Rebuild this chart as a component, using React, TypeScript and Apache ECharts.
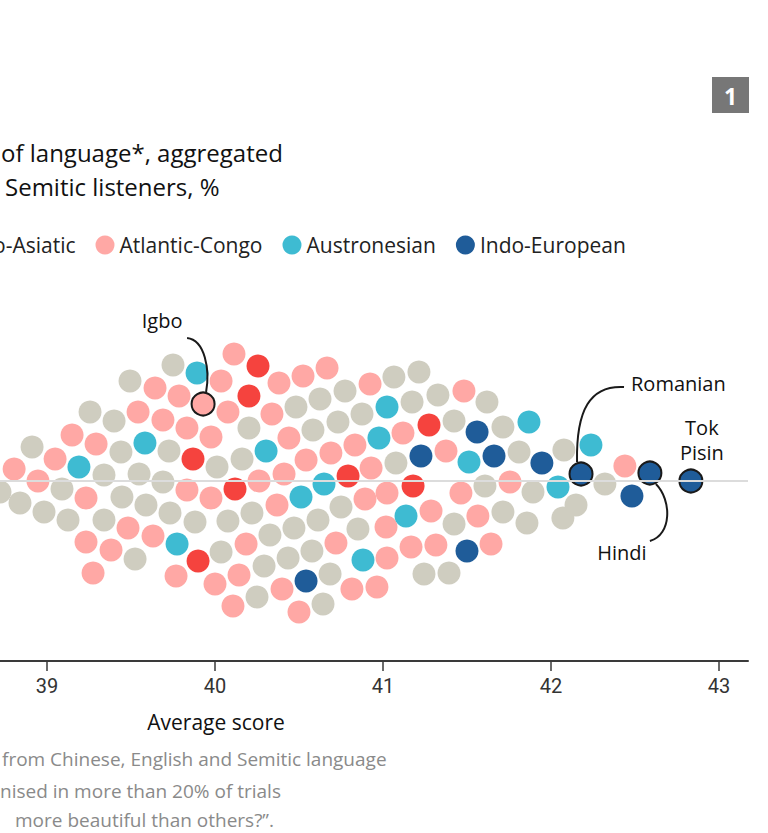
import React, { useEffect, useRef } from "react";
import * as echarts from "echarts";

// ---------- DATA ----------
const familyNames = ["Other", "Afro-Asiatic", "Atlantic-Congo", "Austronesian", "Indo-European"];
const familyColors = ["#cfcdc0", "#f5433e", "#ffa8a5", "#3ebbd2", "#1f5c99"];
const legendFamilies = ["Afro-Asiatic", "Atlantic-Congo", "Austronesian", "Indo-European"];
const tickValues = [39, 40, 41, 42, 43];

// average score (x) and swarm offset (vertical packing position) per language
const otherScores = [39.750, 39.494, 40.482, 40.625, 40.774, 39.256, 39.399, 40.875, 40.202, 40.583, 40.732, 38.911, 39.440, 39.726, 39.339, 40.012, 40.161, 39.548, 39.690, 39.089, 38.720, 38.839, 39.446, 39.589, 38.982, 39.125, 39.339, 39.732, 39.881, 40.077, 40.220, 40.750, 40.327, 40.470, 40.613, 40.851, 39.524, 40.036, 40.435, 40.577, 40.292, 40.685, 40.250, 40.643, 41.065, 41.214, 41.173, 41.327, 41.619, 41.423, 41.714, 41.077, 41.810, 42.077, 42.321, 42.149, 42.071, 41.893, 41.607, 41.423, 41.714, 41.857, 41.244, 41.393];
const otherOffsets = [116, 100, 74, 82, 90, 69, 60, 67, 53, 51, 59, 34, 29, 30, 6, 14, 22, 7, -1, -8, -11, -22, -16, -24, -31, -39, -39, -32, -41, -40, -32, -26, -54, -47, -39, -48, -78, -71, -77, -70, -85, -93, -116, -123, 104, 109, 79, 86, 79, 60, 54, 18, 29, 31, -3, -24, -37, -11, -5, -43, -31, -42, -93, -92];

const afroScores = [40.256, 40.202, 39.869, 40.119, 40.792, 39.899, 41.274, 41.179];
const afroOffsets = [115, 85, 22, -8, 5, -80, 56, -5];

const atlanticScores = [40.113, 39.643, 40.036, 40.381, 40.524, 40.667, 40.923, 39.786, 39.542, 39.690, 40.077, 40.339, 39.149, 39.292, 39.833, 39.976, 40.440, 40.833, 39.048, 38.804, 40.411, 40.542, 40.690, 40.929, 38.946, 39.833, 39.976, 40.262, 39.232, 40.369, 40.893, 39.482, 39.631, 39.232, 39.381, 40.185, 40.720, 39.274, 39.768, 40.000, 40.143, 40.399, 40.815, 40.964, 40.107, 40.500, 41.482, 41.119, 41.375, 42.440, 41.756, 41.464, 41.024, 41.286, 41.565, 41.018, 41.024, 41.167, 41.315, 41.643];
const atlanticOffsets = [127, 93, 100, 98, 105, 113, 97, 85, 69, 61, 69, 67, 46, 37, 53, 44, 43, 36, 22, 12, 7, 21, 28, 13, 0, -9, -17, 0, -17, -24, -18, -47, -55, -61, -69, -63, -62, -92, -95, -103, -94, -108, -108, -106, -125, -131, 90, 48, 30, 15, -1, -12, -12, -30, -35, -46, -77, -66, -64, -63];

const austroScores = [39.893, 39.583, 40.304, 39.190, 40.649, 40.512, 39.774, 40.881, 41.024, 40.976, 41.869, 41.512, 42.238, 42.042, 41.137];
const austroOffsets = [108, 38, 30, 14, -3, -16, -63, -79, 74, 43, 59, 19, 36, -6, -35];

const indoScores = [40.542, 41.560, 41.226, 41.661, 41.946, 42.482, 41.500];
const indoOffsets = [-100, 49, 25, 25, 18, -15, -70];

const annotatedNames = ["Igbo", "Romanian", "Hindi", "Tok Pisin"];
const annotatedFamilies = ["Atlantic-Congo", "Indo-European", "Indo-European", "Indo-European"];
const annotatedScores = [39.929, 42.179, 42.589, 42.833];
const annotatedOffsets = [77, 7, 8, 0];

const titleLines = ["of language*, aggregated", "Semitic listeners, %"];
const footLines = ["from Chinese, English and Semitic language", "nised in more than 20% of trials", "more beautiful than others?\u201d."];

const FONT = "'Open Sans', 'Noto Sans', sans-serif";

export default function App() {
  const ref = useRef<HTMLDivElement>(null);
  useEffect(() => {
    document.body.style.margin = "0";
    const chart = echarts.init(ref.current!, null, { renderer: "svg" });

    const families = [
      { name: "Other", s: otherScores, o: otherOffsets },
      { name: "Afro-Asiatic", s: afroScores, o: afroOffsets },
      { name: "Atlantic-Congo", s: atlanticScores, o: atlanticOffsets },
      { name: "Austronesian", s: austroScores, o: austroOffsets },
      { name: "Indo-European", s: indoScores, o: indoOffsets },
    ];
    const colorOf = (n: string) => familyColors[familyNames.indexOf(n)];

    // measure legend text to place the legend
    const ctx = document.createElement("canvas").getContext("2d")!;
    ctx.font = `21px ${FONT}`;
    const wAfro = ctx.measureText("Afro-Asiatic").width;
    const legendGap = 20;
    const legendLeft = 104 - 9.5 - 5 - 19 - wAfro - legendGap - 4;

    const series: any[] = [
      {
        type: "line",
        data: [],
        z: 1,
        silent: true,
        markLine: {
          silent: true,
          symbol: "none",
          label: { show: false },
          lineStyle: { color: "#dcdcdc", width: 2, type: "solid" },
          data: [{ yAxis: 0 }],
        },
      },
      ...families.map((f) => ({
        name: f.name,
        type: "scatter",
        symbol: "circle",
        symbolSize: 23,
        z: 3,
        itemStyle: { color: colorOf(f.name), opacity: 1 },
        data: f.s.map((v, i) => [v, f.o[i]]),
      })),
      {
        name: "annotated",
        type: "scatter",
        symbol: "circle",
        symbolSize: 23,
        z: 4,
        itemStyle: { opacity: 1 },
        data: annotatedScores.map((v, i) => ({
          name: annotatedNames[i],
          value: [v, annotatedOffsets[i]],
          itemStyle: { color: colorOf(annotatedFamilies[i]), borderColor: "#1a1a1a", borderWidth: 2, opacity: 1 },
        })),
      },
    ];

    chart.setOption({
      animation: false,
      grid: { left: 0, right: 20, top: 301, bottom: 172, containLabel: false },
      legend: {
        data: legendFamilies.map((n) => ({ name: n, icon: "circle" })),
        left: legendLeft,
        top: 228,
        itemWidth: 19,
        itemHeight: 19,
        itemGap: legendGap,
        textStyle: { fontSize: 21, color: "#222", fontFamily: FONT, lineHeight: 24 },
        selectedMode: false,
      },
      xAxis: {
        type: "value",
        min: 38.72,
        max: 43.173,
        axisLine: { show: true, onZero: false, lineStyle: { color: "#3a3a3a", width: 2 } },
        axisTick: { show: true, length: 10, lineStyle: { color: "#3a3a3a", width: 1.5 }, customValues: tickValues },
        axisLabel: {
          show: true,
          customValues: tickValues,
          margin: 15,
          fontSize: 20,
          color: "#333",
          fontFamily: "'Liberation Sans Narrow', 'Roboto', sans-serif",
          formatter: (v: number) => String(v),
        },
        splitLine: { show: false },
      },
      yAxis: {
        type: "value",
        min: -180,
        max: 180,
        show: false,
      },
      series,
    });

    const px = (s: number, o: number) => chart.convertToPixel({ gridIndex: 0 }, [s, o]) as number[];
    const txt = (text: string, x: number, y: number, size: number, fill: string, align = "left", weight: any = "normal") => ({
      type: "text",
      z: 100,
      style: { text, x, y, fontSize: size, fontFamily: FONT, fill, textAlign: align, textVerticalAlign: "middle", fontWeight: weight },
    });
    const curve = (cx: number, cy: number, p: number[]) => ({
      type: "bezierCurve",
      z: 100,
      shape: { x1: cx + p[0], y1: cy + p[1], cpx1: cx + p[2], cpy1: cy + p[3], cpx2: cx + p[4], cpy2: cy + p[5], x2: cx + p[6], y2: cy + p[7] },
      style: { stroke: "#1a1a1a", lineWidth: 2, fill: null },
    });

    const [igX, igY] = px(annotatedScores[0], annotatedOffsets[0]);
    const [roX, roY] = px(annotatedScores[1], annotatedOffsets[1]);
    const [hiX, hiY] = px(annotatedScores[2], annotatedOffsets[2]);
    const [tpX, tpY] = px(annotatedScores[3], annotatedOffsets[3]);
    const [scoreX] = px(40, 0);

    const graphic: any[] = [
      { type: "rect", z: 100, shape: { x: 712, y: 77, width: 37, height: 36 }, style: { fill: "#777777" } },
      txt("1", 730.5, 96, 23, "#ffffff", "center", "bold"),
      txt(titleLines[0], 1, 152, 24, "#111"),
      txt(titleLines[1], 5, 186, 24, "#111"),
      txt(annotatedNames[0], igX - 41, igY - 84, 20, "#111", "center"),
      curve(igX, igY, [-16, -66, 2, -64, 7, -34, 3, -12]),
      txt(annotatedNames[1], roX + 50, roY - 91, 20, "#111", "left"),
      curve(roX, roY, [43, -87, 9, -89, -5, -64, -4, -12]),
      txt(annotatedNames[2], hiX - 28, hiY + 79, 20, "#111", "center"),
      curve(hiX, hiY, [6, 11, 22, 27, 22, 62, 0, 68]),
      txt("Tok", tpX + 11, tpY - 54, 20, "#111", "center"),
      txt("Pisin", tpX + 11, tpY - 29, 20, "#111", "center"),
      txt("Average score", scoreX + 1, 722, 21, "#111", "center"),
      txt(footLines[0], 2, 759, 19, "#8a8a8a"),
      txt(footLines[1], 0, 791, 19, "#8a8a8a"),
      txt(footLines[2], 15, 820, 19, "#8a8a8a"),
    ];
    chart.setOption({ graphic });

    return () => chart.dispose();
  }, []);
  return <div ref={ref} style={{ width: 768, height: 833 }} />;
}
